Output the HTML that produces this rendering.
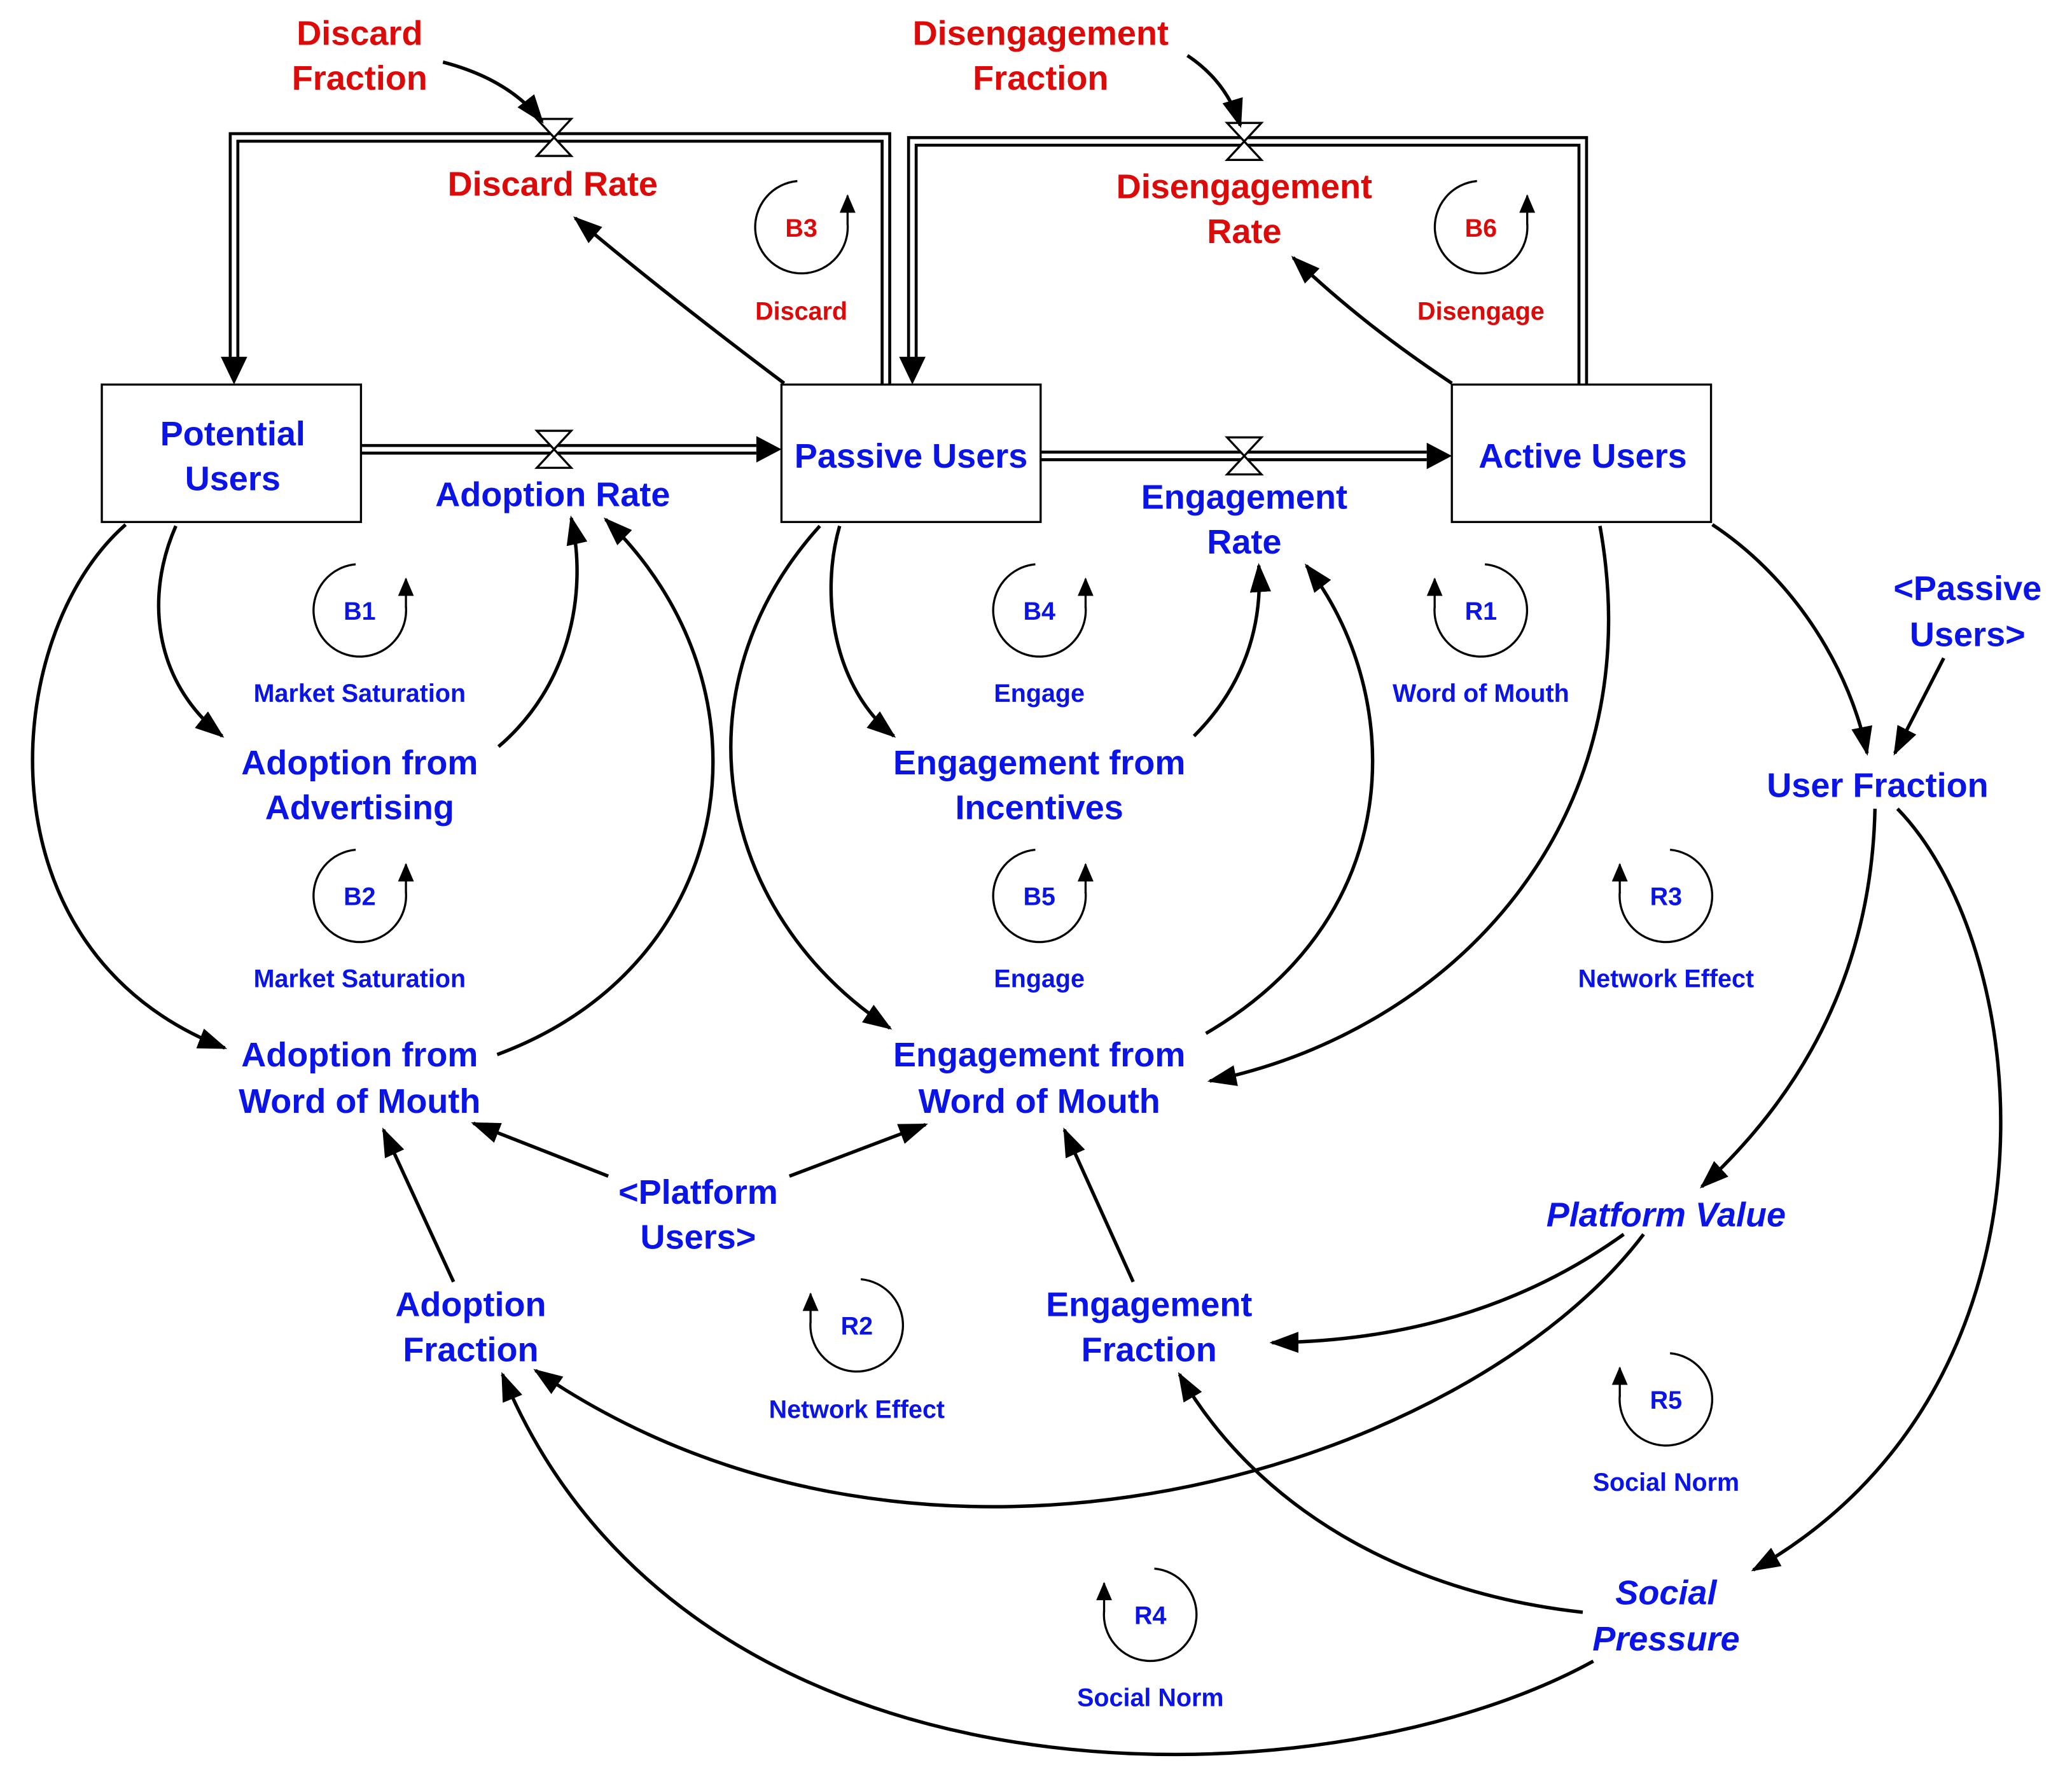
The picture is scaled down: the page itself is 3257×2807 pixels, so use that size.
<!DOCTYPE html>
<html><head><meta charset="utf-8"><style>
html,body{margin:0;padding:0;background:#fff;}
svg{display:block;}
text{font-family:"Liberation Sans",sans-serif;font-weight:bold;text-anchor:middle;}
.b{fill:#0a14e6;font-size:26px;}
.r{fill:#dd0a0a;font-size:26px;}
.sb{fill:#0a14e6;font-size:19px;}
.sr{fill:#dd0a0a;font-size:19px;}
.it{font-style:italic;}
.c{fill:none;stroke:#000;stroke-width:2.6;marker-end:url(#ah);}
.lp{fill:none;stroke:#000;stroke-width:1.6;}
</style></head><body>
<svg width="3257" height="2807" viewBox="0 0 1567 1351.5" preserveAspectRatio="none" xmlns="http://www.w3.org/2000/svg">
<defs>
<marker id="ah" markerWidth="22" markerHeight="16" refX="20" refY="8" orient="auto" markerUnits="userSpaceOnUse"><path d="M0,0 L22,8 L0,16 Z" fill="#000"/></marker>
<marker id="sa" markerWidth="14" markerHeight="12" refX="13" refY="6" orient="auto" markerUnits="userSpaceOnUse"><path d="M0,0 L14,6 L0,12 Z" fill="#000"/></marker>
</defs>

<g fill="none" stroke-linejoin="miter">
<path d="M273,340 L572,340" stroke="#000" stroke-width="8"/>
<path d="M273,340 L574,340" stroke="#fff" stroke-width="3.5"/>
<path d="M787,345 L1079,345" stroke="#000" stroke-width="8"/>
<path d="M787,345 L1081,345" stroke="#fff" stroke-width="3.5"/>
<path d="M670,291 L670,104 L177,104 L177,272" stroke="#000" stroke-width="8"/>
<path d="M670,291 L670,104 L177,104 L177,274" stroke="#fff" stroke-width="3.5"/>
<path d="M1197,291 L1197,107 L690,107 L690,272" stroke="#000" stroke-width="8"/>
<path d="M1197,291 L1197,107 L690,107 L690,274" stroke="#fff" stroke-width="3.5"/>
</g>
<path d="M572,330 L591,340 L572,350 Z" fill="#000"/>
<path d="M1079,335 L1098,345 L1079,355 Z" fill="#000"/>
<path d="M167,270 L177,291 L187,270 Z" fill="#000"/>
<path d="M680,270 L690,291 L700,270 Z" fill="#000"/>
<g fill="#fff" stroke="#000" stroke-width="1.6">
<path d="M406,326 L432,326 L406,354 L432,354 Z"/>
<path d="M928,331 L954,331 L928,359 L954,359 Z"/>
<path d="M406,90 L432,90 L406,118 L432,118 Z"/>
<path d="M928,93 L954,93 L928,121 L954,121 Z"/>
</g>

<g fill="#fff" stroke="#000" stroke-width="1.6">
<rect x="77" y="291" width="196" height="104"/>
<rect x="591" y="291" width="196" height="104"/>
<rect x="1098" y="291" width="196" height="104"/>
</g>

<path class="c" d="M335,47 Q385,60 410,92"/>
<path class="c" d="M898,42 Q928,62 938,95"/>
<path class="c" d="M593,290 Q500,220 435,165"/>
<path class="c" d="M1098,290 Q1030,245 978,195"/>
<path class="c" d="M133,398 C110,450 115,515 168,557"/>
<path class="c" d="M377,565 C430,520 445,450 432,392"/>
<path class="c" d="M95,397 C0,480 -20,720 170,793"/>
<path class="c" d="M376,798 C560,730 590,520 458,393"/>
<path class="c" d="M635,398 C620,450 630,520 676,557"/>
<path class="c" d="M903,557 C940,520 955,475 952,428"/>
<path class="c" d="M620,398 C510,520 540,690 673,778"/>
<path class="c" d="M912,782 C1070,690 1060,520 988,428"/>
<path class="c" d="M1210,398 C1250,620 1100,780 915,818"/>
<path class="c" d="M1295,397 C1360,440 1400,510 1412,570"/>
<path class="c" d="M1470,498 L1433,570"/>
<path class="c" d="M1418,612 C1415,750 1350,840 1287,898"/>
<path class="c" d="M1435,612 C1540,720 1570,1050 1326,1188"/>
<path class="c" d="M1228,934 C1150,990 1060,1015 962,1016"/>
<path class="c" d="M1243,934 C1110,1110 700,1240 405,1037"/>
<path class="c" d="M1197,1220 C1060,1205 950,1140 892,1040"/>
<path class="c" d="M1205,1257 C1000,1370 520,1380 380,1040"/>
<path class="c" d="M343,970 L290,855"/>
<path class="c" d="M857,970 L805,855"/>
<path class="c" d="M460,890 L358,850"/>
<path class="c" d="M597,890 L700,851"/>

<g class="lp">
<path d="M603,137 A35,35 0 1 0 641,169"/><path d="M641,170 L641,148" marker-end="url(#sa)"/>
<path d="M1117,137 A35,35 0 1 0 1155,169"/><path d="M1155,170 L1155,148" marker-end="url(#sa)"/>
<path d="M269,427 A35,35 0 1 0 307,459"/><path d="M307,460 L307,438" marker-end="url(#sa)"/>
<path d="M783,427 A35,35 0 1 0 821,459"/><path d="M821,460 L821,438" marker-end="url(#sa)"/>
<path d="M269,643 A35,35 0 1 0 307,675"/><path d="M307,676 L307,654" marker-end="url(#sa)"/>
<path d="M783,643 A35,35 0 1 0 821,675"/><path d="M821,676 L821,654" marker-end="url(#sa)"/>
<path d="M1123,427 A35,35 0 1 1 1085,459"/><path d="M1085,460 L1085,438" marker-end="url(#sa)"/>
<path d="M1263,643 A35,35 0 1 1 1225,675"/><path d="M1225,676 L1225,654" marker-end="url(#sa)"/>
<path d="M651,968 A35,35 0 1 1 613,1000"/><path d="M613,1001 L613,979" marker-end="url(#sa)"/>
<path d="M1263,1024 A35,35 0 1 1 1225,1056"/><path d="M1225,1057 L1225,1035" marker-end="url(#sa)"/>
<path d="M873,1187 A35,35 0 1 1 835,1219"/><path d="M835,1220 L835,1198" marker-end="url(#sa)"/>
</g>

<text class="r" x="272" y="34">Discard</text><text class="r" x="272" y="68">Fraction</text>
<text class="r" x="787" y="34">Disengagement</text><text class="r" x="787" y="68">Fraction</text>
<text class="r" x="418" y="148">Discard Rate</text>
<text class="r" x="941" y="150">Disengagement</text><text class="r" x="941" y="184">Rate</text>
<text class="b" x="418" y="383">Adoption Rate</text>
<text class="b" x="941" y="385">Engagement</text><text class="b" x="941" y="419">Rate</text>
<text class="b" x="176" y="337">Potential</text><text class="b" x="176" y="371">Users</text>
<text class="b" x="689" y="354">Passive Users</text>
<text class="b" x="1197" y="354">Active Users</text>
<text class="b" x="272" y="586">Adoption from</text><text class="b" x="272" y="620">Advertising</text>
<text class="b" x="786" y="586">Engagement from</text><text class="b" x="786" y="620">Incentives</text>
<text class="b" x="272" y="807">Adoption from</text><text class="b" x="272" y="842">Word of Mouth</text>
<text class="b" x="786" y="807">Engagement from</text><text class="b" x="786" y="842">Word of Mouth</text>
<text class="b" x="528" y="911">&lt;Platform</text><text class="b" x="528" y="945">Users&gt;</text>
<text class="b" x="356" y="996">Adoption</text><text class="b" x="356" y="1030">Fraction</text>
<text class="b" x="869" y="996">Engagement</text><text class="b" x="869" y="1030">Fraction</text>
<text class="b" x="1488" y="454">&lt;Passive</text><text class="b" x="1488" y="489">Users&gt;</text>
<text class="b" x="1420" y="603">User Fraction</text>
<text class="b it" x="1260" y="928">Platform Value</text>
<text class="b it" x="1260" y="1214">Social</text><text class="b it" x="1260" y="1249">Pressure</text>

<text class="sr" x="606" y="179">B3</text><text class="sr" x="606" y="242">Discard</text>
<text class="sr" x="1120" y="179">B6</text><text class="sr" x="1120" y="242">Disengage</text>
<text class="sb" x="272" y="469">B1</text><text class="sb" x="272" y="531">Market Saturation</text>
<text class="sb" x="786" y="469">B4</text><text class="sb" x="786" y="531">Engage</text>
<text class="sb" x="1120" y="469">R1</text><text class="sb" x="1120" y="531">Word of Mouth</text>
<text class="sb" x="272" y="685">B2</text><text class="sb" x="272" y="747">Market Saturation</text>
<text class="sb" x="786" y="685">B5</text><text class="sb" x="786" y="747">Engage</text>
<text class="sb" x="1260" y="685">R3</text><text class="sb" x="1260" y="747">Network Effect</text>
<text class="sb" x="648" y="1010">R2</text><text class="sb" x="648" y="1073">Network Effect</text>
<text class="sb" x="1260" y="1066">R5</text><text class="sb" x="1260" y="1128">Social Norm</text>
<text class="sb" x="870" y="1229">R4</text><text class="sb" x="870" y="1291">Social Norm</text>
</svg>
</body></html>
